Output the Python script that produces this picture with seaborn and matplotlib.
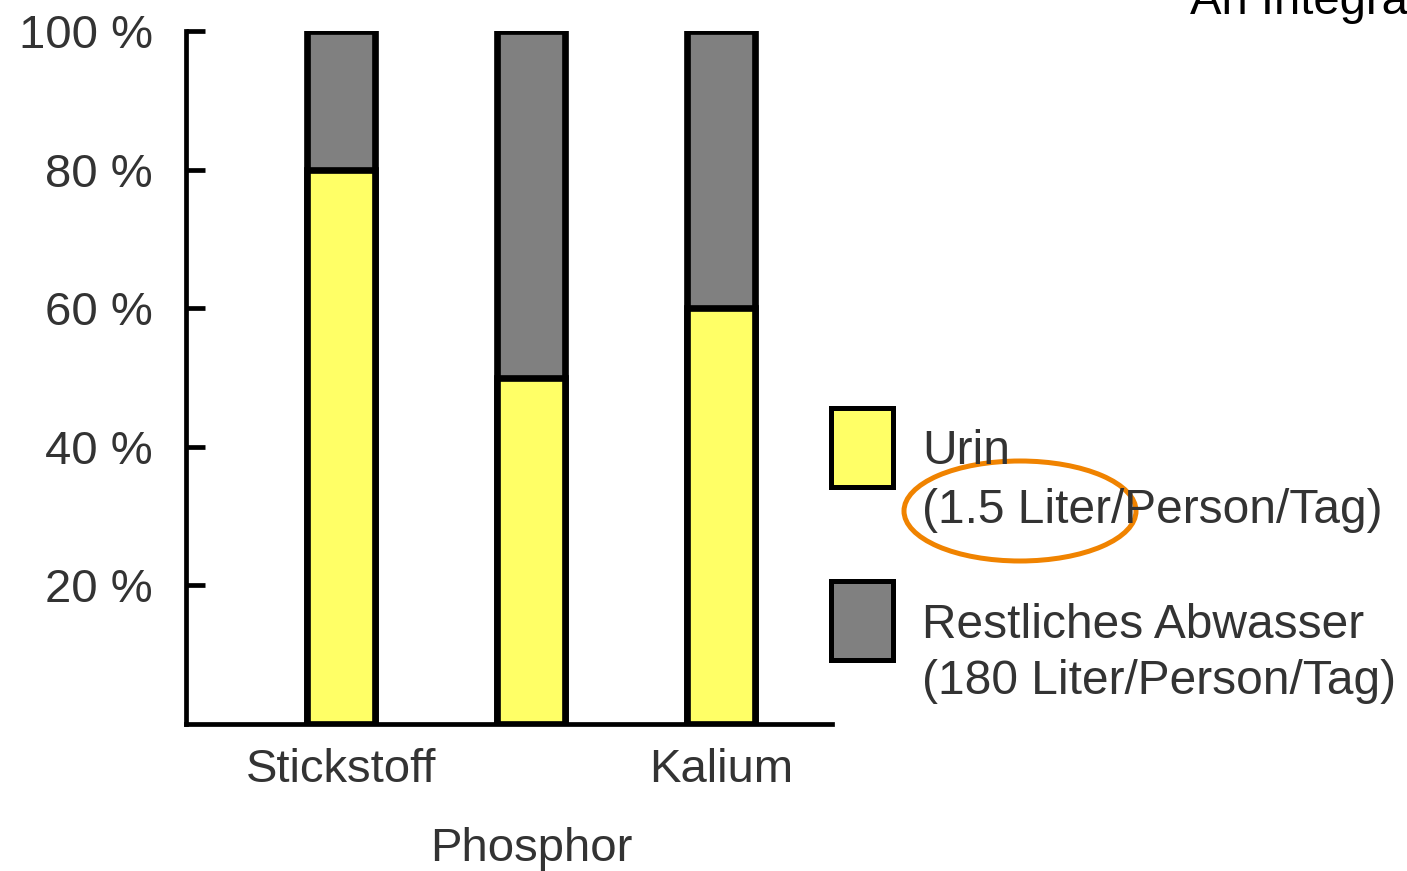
import matplotlib
matplotlib.use("Agg")
import matplotlib.pyplot as plt
from matplotlib.patches import Rectangle, Ellipse
import seaborn as sns
import pandas as pd

# data (share of the nutrient load, %)
categories = ["Stickstoff", "Phosphor", "Kalium"]
urin_share = [80, 50, 60]
total_share = [100, 100, 100]
y_ticks = [20, 40, 60, 80, 100]
y_tick_labels = ["20 %", "40 %", "60 %", "80 %", "100 %"]
legend_labels = [["Urin", "(1.5 Liter/Person/Tag)"],
                 ["Restliches Abwasser", "(180 Liter/Person/Tag)"]]

YELLOW = "#FFFF66"
GREY = "#808080"
TXT = "#333333"

sns.set_style("white")
plt.rcParams["font.family"] = ["Liberation Sans", "DejaVu Sans"]

df = pd.DataFrame({"element": categories, "urin": urin_share, "total": total_share})

fig = plt.figure(figsize=(14.07, 8.71), dpi=100)
ax = fig.add_axes([186 / 1407, 1 - 724 / 871, (832 - 186) / 1407, (724 - 31) / 871])

bar_kw = dict(edgecolor="black", linewidth=4.8, width=0.36, saturation=1, ax=ax)
sns.barplot(data=df, x="element", y="total", color=GREY, **bar_kw)
sns.barplot(data=df, x="element", y="urin", color=YELLOW, **bar_kw)

ax.set_xlim(-0.815, 2.585)
ax.set_ylim(0, 100)
ax.set_xlabel("")
ax.set_ylabel("")
ax.set_yticks(y_ticks)
ax.set_yticklabels(y_tick_labels, fontsize=34, color=TXT)
ax.tick_params(axis="y", left=True, direction="in", length=14, width=3.4, pad=24,
               colors="black", labelcolor=TXT)
ax.tick_params(axis="x", length=0, labelsize=34, labelcolor=TXT, pad=17)
for sp in ["top", "right"]:
    ax.spines[sp].set_visible(False)
for sp in ["left", "bottom"]:
    ax.spines[sp].set_linewidth(3.4)
    ax.spines[sp].set_color("black")

# staggered category labels
ax.xaxis.get_major_ticks()[1].set_pad(74)

# legend drawn by hand to match the layout
for i, (color, lines) in enumerate(zip([YELLOW, GREY], legend_labels)):
    top = [408, 581][i]
    fig.patches.append(Rectangle((831 / 1407, 1 - (top + 79) / 871), 62 / 1407, 79 / 871,
                                 transform=fig.transFigure, facecolor=color,
                                 edgecolor="black", linewidth=3.6))
    baselines = [[464, 523], [638, 694]][i]
    for line, b in zip(lines, baselines):
        fig.text(922 / 1407, 1 - b / 871, line, fontsize=34.5, color=TXT, va="baseline")

fig.patches.append(Ellipse((1020 / 1407, 1 - 511 / 871), 232 / 1407, 100 / 871,
                           transform=fig.transFigure, fill=False,
                           edgecolor="#F08300", linewidth=3.6))

fig.text(1190 / 1407, 1 - 14 / 871, "An Integrated", fontsize=34, color="black",
         va="baseline")

fig.savefig("out.png", dpi=100)
